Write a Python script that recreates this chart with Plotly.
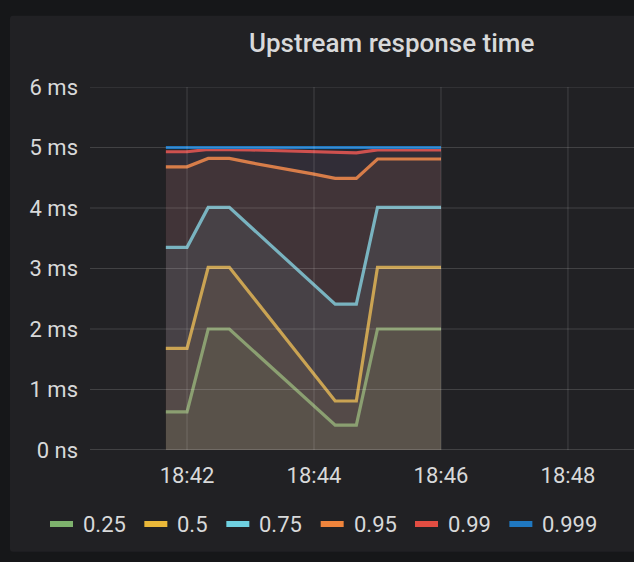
import plotly.graph_objects as go

# ---- data ----
times = [
    "2021-01-01 18:41:40", "2021-01-01 18:42:00", "2021-01-01 18:42:20",
    "2021-01-01 18:42:40", "2021-01-01 18:43:00", "2021-01-01 18:43:20",
    "2021-01-01 18:43:40", "2021-01-01 18:44:00", "2021-01-01 18:44:20",
    "2021-01-01 18:44:40", "2021-01-01 18:45:00", "2021-01-01 18:45:20",
    "2021-01-01 18:45:40", "2021-01-01 18:46:00",
]
series_names = ["0.25", "0.5", "0.75", "0.95", "0.99", "0.999"]
q25 = [0.63, 0.63, 2.0, 2.0, 1.68, 1.36, 1.04, 0.72, 0.41, 0.41, 2.0, 2.0, 2.0, 2.0]
q50 = [1.68, 1.68, 3.02, 3.02, 2.58, 2.14, 1.69, 1.25, 0.81, 0.81, 3.02, 3.02, 3.02, 3.02]
q75 = [3.35, 3.35, 4.01, 4.01, 3.69, 3.37, 3.05, 2.73, 2.41, 2.41, 4.01, 4.01, 4.01, 4.01]
q95 = [4.68, 4.68, 4.82, 4.82, 4.75, 4.69, 4.62, 4.56, 4.49, 4.49, 4.81, 4.81, 4.81, 4.81]
q99 = [4.93, 4.93, 4.97, 4.97, 4.96, 4.95, 4.94, 4.93, 4.91, 4.91, 4.96, 4.96, 4.96, 4.96]
q999 = [5.0, 5.0, 5.0, 5.0, 5.0, 5.0, 5.0, 5.0, 5.0, 5.0, 5.0, 5.0, 5.0, 5.0]
series_values = [q25, q50, q75, q95, q99, q999]
series_colors = ["#7EB26D", "#EAB839", "#6ED0E0", "#EF843C", "#E24D42", "#1F78C1"]

y_tickvals = [0, 1, 2, 3, 4, 5, 6]
y_ticktext = ["0 ns", "1 ms", "2 ms", "3 ms", "4 ms", "5 ms", "6 ms"]
x_tickvals = ["2021-01-01 18:42:00", "2021-01-01 18:44:00",
              "2021-01-01 18:46:00", "2021-01-01 18:48:00"]
x_range = ["2021-01-01 18:40:28.3", "2021-01-01 18:49:02.4"]
title_text = "Upstream response time"

# ---- layout geometry (pixels) ----
W, H = 634, 562
L, R, T, B = 90, 0, 87, 112
PW, PH = W - L - R, H - T - B
TEXT = "#d8d9da"
FONT = "Roboto"


def px_x(px):
    return (px - L) / PW


def px_y(py):
    return (H - B - py) / PH


def rgba(hexc, a):
    h = hexc.lstrip("#")
    return "rgba(%d,%d,%d,%s)" % (int(h[0:2], 16), int(h[2:4], 16), int(h[4:6], 16), a)


fig = go.Figure()
for name, vals, col in zip(series_names, series_values, series_colors):
    fig.add_trace(go.Scatter(
        x=times, y=vals, name=name, mode="lines",
        line=dict(color=col, width=3.2),
        fill="tozeroy", fillcolor=rgba(col, 0.1),
        showlegend=False, hoverinfo="skip",
    ))

shapes = []
# panel background with rounded corners
x0, x1 = px_x(10), px_x(780)
y0, y1 = px_y(551.7), px_y(15.7)
rx, ry = 3 / PW, 3 / PH
shapes.append(dict(
    type="path", xref="paper", yref="paper", layer="below",
    path=(f"M {x0+rx},{y1} L {x1-rx},{y1} Q {x1},{y1} {x1},{y1-ry} "
          f"L {x1},{y0+ry} Q {x1},{y0} {x1-rx},{y0} L {x0+rx},{y0} "
          f"Q {x0},{y0} {x0},{y0+ry} L {x0},{y1-ry} Q {x0},{y1} {x0+rx},{y1} Z"),
    fillcolor="#212124", line=dict(width=0),
))
# gridlines drawn above the series (as in the original)
GRID = "rgba(255,255,255,0.15)"
for yv in y_tickvals:
    shapes.append(dict(type="line", xref="paper", yref="y", x0=0, x1=1, y0=yv, y1=yv,
                       line=dict(color=GRID, width=2 if yv == 0 else 1), layer="above"))
for xv in x_tickvals:
    shapes.append(dict(type="line", xref="x", yref="paper", x0=xv, x1=xv, y0=0, y1=1,
                       line=dict(color=GRID, width=1), layer="above"))

annotations = [dict(
    text=title_text, xref="paper", yref="paper", x=px_x(391), y=px_y(43),
    xanchor="center", yanchor="middle", showarrow=False,
    font=dict(family=FONT, size=26, color=TEXT, weight=500),
)]

# custom legend
LEG_FS = 22
leg_y = px_y(524)
cx = 50.0
for name, col in zip(series_names, series_colors):
    shapes.append(dict(type="line", xref="paper", yref="paper",
                       x0=px_x(cx), x1=px_x(cx + 23), y0=leg_y, y1=leg_y,
                       line=dict(color=col, width=6)))
    annotations.append(dict(
        text=name, xref="paper", yref="paper", x=px_x(cx + 31), y=leg_y,
        xanchor="left", yanchor="middle", showarrow=False,
        font=dict(family=FONT, size=LEG_FS, color=TEXT),
    ))
    tw = sum(0.263 if c == "." else 0.5615 for c in name) * LEG_FS
    cx += 32 + tw + 19.5

fig.update_layout(
    width=W, height=H,
    margin=dict(l=L, r=R, t=T, b=B, pad=0),
    paper_bgcolor="#161719", plot_bgcolor="rgba(0,0,0,0)",
    shapes=shapes, annotations=annotations,
    showlegend=False,
    font=dict(family=FONT, color=TEXT, size=22),
    xaxis=dict(type="date", range=x_range, tickvals=x_tickvals, tickformat="%H:%M",
               showgrid=False, zeroline=False, showline=False, ticks="",
               ticklabelstandoff=10, tickfont=dict(size=22, color=TEXT)),
    yaxis=dict(range=[0, 6], tickvals=y_tickvals, ticktext=y_ticktext,
               showgrid=False, zeroline=False, showline=False, ticks="",
               ticklabelstandoff=11, tickfont=dict(size=22, color=TEXT)),
)

fig.write_html("out.html", config={"displayModeBar": False})
